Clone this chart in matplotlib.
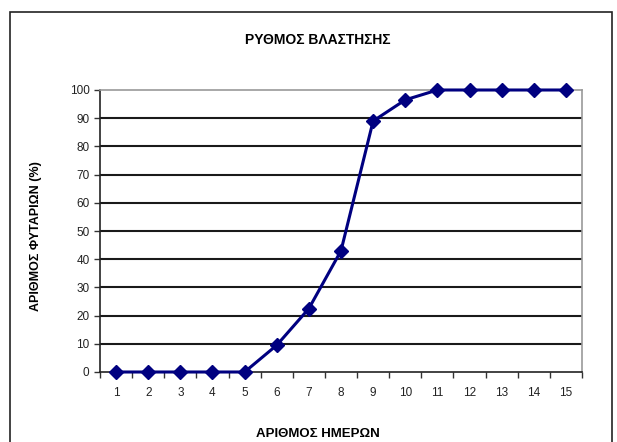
import matplotlib.pyplot as plt
from matplotlib.patches import Rectangle

plt.rcParams['font.family'] = ['Liberation Sans', 'DejaVu Sans']

# ημέρες και ποσοστό φυταρίων
imeres = list(range(1, 16))
fytaria = [0, 0, 0, 0, 0, 9.5, 22.5, 43, 89, 96.5, 100, 100, 100, 100, 100]

fig = plt.figure(figsize=(6.17, 4.42), dpi=100)
fig.patch.set_facecolor('white')

# εξωτερικό πλαίσιο
fig.add_artist(Rectangle((10 / 617, -0.05), 602 / 617, 1.05 - 12 / 442,
                         transform=fig.transFigure, fill=False,
                         edgecolor='#222222', linewidth=1.2))

ax = fig.add_axes([100 / 617, 1 - 372 / 442, 482 / 617, 282 / 442])
ax.plot(imeres, fytaria, color='#000080', linewidth=2.2, marker='D',
        markersize=7.5, zorder=3, clip_on=False)

ax.set_xlim(0.5, 15.5)
ax.set_ylim(0, 100)
ax.set_yticks(range(0, 101, 10))
ax.set_xticks(imeres)
ax.set_xticks([i + 0.5 for i in range(0, 16)], minor=True)
ax.tick_params(axis='x', which='major', length=0, pad=11, labelsize=8.5, labelcolor='#222222')
ax.tick_params(axis='x', which='minor', length=4, width=1, direction='out', color='#333333')
ax.tick_params(axis='y', length=4, width=1, labelsize=8.5, color='#333333', labelcolor='#222222')

for y in range(10, 100, 10):
    ax.axhline(y, color='#1a1a1a', linewidth=1.5, zorder=1)

for s in ['top', 'right']:
    ax.spines[s].set_color('#999999')
    ax.spines[s].set_linewidth(1.2)
for s in ['left', 'bottom']:
    ax.spines[s].set_color('#222222')
    ax.spines[s].set_linewidth(1.2)

fig.text(318 / 617, 1 - 40 / 442, 'ΡΥΘΜΟΣ ΒΛΑΣΤΗΣΗΣ', ha='center', va='center',
         fontsize=10, fontweight='bold')
fig.text(318 / 617, 1 - 434 / 442, 'ΑΡΙΘΜΟΣ ΗΜΕΡΩΝ', ha='center', va='center',
         fontsize=9.5, fontweight='bold')
fig.text(36 / 617, 1 - 236 / 442, 'ΑΡΙΘΜΟΣ ΦΥΤΑΡΙΩΝ (%)', ha='center', va='center',
         rotation=90, fontsize=9, fontweight='bold')

fig.savefig('out.png', dpi=100)
